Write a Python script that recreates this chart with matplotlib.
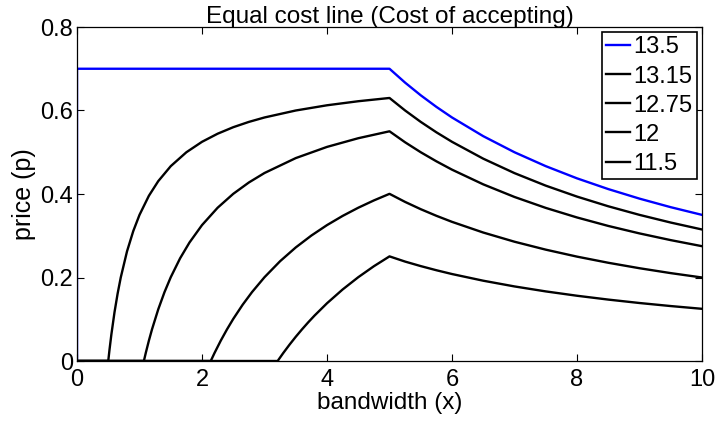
import matplotlib.pyplot as plt

plt.rcParams['font.family'] = ['Liberation Sans', 'DejaVu Sans']

labels = ['13.5', '13.15', '12.75', '12', '11.5']
colors = ['blue', 'black', 'black', 'black', 'black']

# tail (x > 5) shared x positions
x_tail = [5.25, 5.5, 5.75, 6, 6.5, 7, 7.5, 8, 8.5, 9, 9.5, 10]

x_135 = [0, 0, 5] + x_tail
y_135 = [0, 0.7, 0.7,
         0.6667, 0.6364, 0.6087, 0.5833, 0.5385, 0.5, 0.4667, 0.4375, 0.4118, 0.3889, 0.3684, 0.35]

x_1315 = [0, 0.5, 0.52, 0.55, 0.6, 0.65, 0.7, 0.8, 0.9, 1.0, 1.15, 1.3, 1.5, 1.75, 2, 2.25,
          2.5, 2.75, 3, 3.5, 4, 4.5, 5] + x_tail
y_1315 = [0, 0, 0.0269, 0.0636, 0.1167, 0.1615, 0.2, 0.2625, 0.3111, 0.35, 0.3957, 0.4308,
          0.4667, 0.5, 0.525, 0.5444, 0.56, 0.5727, 0.5833, 0.6, 0.6125, 0.6222, 0.63,
          0.6, 0.5727, 0.5478, 0.525, 0.4846, 0.45, 0.42, 0.3938, 0.3706, 0.35, 0.3316, 0.315]

x_1275 = [0, 1.07, 1.1, 1.15, 1.2, 1.3, 1.4, 1.5, 1.65, 1.8, 2, 2.25, 2.5, 2.75, 3, 3.5,
          4, 4.5, 5] + x_tail
y_1275 = [0, 0, 0.0191, 0.0487, 0.0758, 0.1238, 0.165, 0.2007, 0.2461, 0.2839, 0.3255,
          0.3671, 0.4004, 0.4276, 0.4503, 0.486, 0.5128, 0.5336, 0.5502,
          0.5238, 0.5, 0.4783, 0.4583, 0.4231, 0.3929, 0.3667, 0.3438, 0.3235, 0.3056, 0.2895, 0.275]

x_12 = [0, 2.14, 2.2, 2.3, 2.4, 2.5, 2.65, 2.8, 3, 3.25, 3.5, 3.75, 4, 4.25, 4.5, 4.75, 5] + x_tail
y_12 = [0, 0, 0.0191, 0.0487, 0.0758, 0.1008, 0.1347, 0.165, 0.2007, 0.2391, 0.272, 0.3005,
        0.3255, 0.3475, 0.3671, 0.3846, 0.4004,
        0.381, 0.3636, 0.3478, 0.3333, 0.3077, 0.2857, 0.2667, 0.25, 0.2353, 0.2222, 0.2105, 0.2]

x_115 = [0, 3.21, 3.3, 3.4, 3.5, 3.6, 3.7, 3.8, 4, 4.25, 4.5, 4.75, 5] + x_tail
y_115 = [0, 0, 0.0191, 0.0391, 0.058, 0.0758, 0.0927, 0.1087, 0.1383, 0.1713, 0.2007, 0.227, 0.2506,
         0.2381, 0.2273, 0.2174, 0.2083, 0.1923, 0.1786, 0.1667, 0.1563, 0.1471, 0.1389, 0.1316, 0.125]

xs = [x_135, x_1315, x_1275, x_12, x_115]
ys = [y_135, y_1315, y_1275, y_12, y_115]

fig = plt.figure(figsize=(7.19, 4.23), dpi=100)
# axes box: left 77px, right 702px, top 27px, bottom 361px
ax = fig.add_axes([77 / 719, (423 - 361) / 423, 625 / 719, 334 / 423])

for x, y, c, lab in zip(xs, ys, colors, labels):
    ax.plot(x, y, color=c, lw=1.7, label=lab)

ax.set_xlim(0, 10)
ax.set_ylim(0, 0.8)
ax.set_xticks([0, 2, 4, 6, 8, 10])
ax.set_yticks([0, 0.2, 0.4, 0.6, 0.8])
ax.set_yticklabels(['0', '0.2', '0.4', '0.6', '0.8'])
ax.tick_params(direction='in', top=True, right=True, length=5, labelsize=17)
ax.tick_params(axis='x', pad=6)
ax.tick_params(axis='y', pad=3)
for s in ax.spines.values():
    s.set_linewidth(0.9)
ax.set_xlabel('bandwidth (x)', fontsize=17.5, labelpad=0.5)
ax.set_ylabel('price (p)', fontsize=18, labelpad=3)
ax.set_title('Equal cost line (Cost of accepting)', fontsize=17.5, pad=3)

leg = ax.legend(loc='upper right', fontsize=17, handlelength=1.0, handletextpad=0.15,
                labelspacing=0.3, borderpad=0.2, fancybox=False, framealpha=1,
                edgecolor='black', borderaxespad=0.2)
leg.get_frame().set_linewidth(1.2)

fig.savefig('out.png', dpi=100)
